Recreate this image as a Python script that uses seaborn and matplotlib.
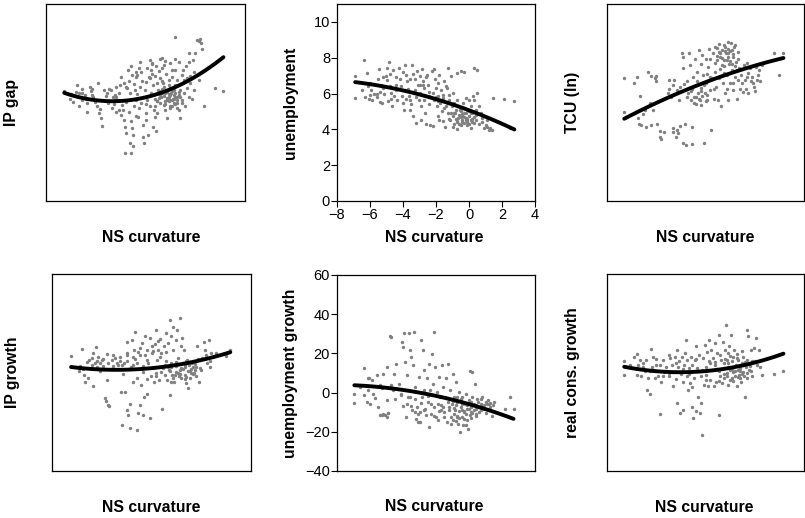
import numpy as np
import pandas as pd
import matplotlib
matplotlib.use("Agg")
import matplotlib.pyplot as plt
import seaborn as sns

# ---------------- data ----------------
# Panel 1: IP gap vs NS curvature
curv_ipgap = [-6.9,-6.55,-6.45,-6.35,-6.15,-6.1,-6.0,-5.85,-5.8,-5.65,
              -5.5,-5.5,-5.35,-5.3,-5.2,-5.15,-5.05,-4.95,-4.85,-4.8,
              -4.75,-4.7,-4.6,-4.4,-4.25,-4.2,-4.1,-3.95,-3.85,-3.85,
              -3.75,-3.75,-3.65,-3.6,-3.5,-3.55,-3.45,-3.4,-3.35,-3.3,
              -3.25,-3.25,-3.2,-3.15,-3.1,-3.05,-3.0,-2.95,-2.95,-2.9,
              -2.85,-2.8,-2.75,-2.75,-2.7,-2.65,-2.65,-2.6,-2.55,-2.5,
              -2.45,-2.4,-2.35,-2.35,-2.3,-2.25,-2.15,-2.15,-2.1,-2.05,
              -2.0,-1.95,-1.9,-1.85,-1.75,-1.75,-1.7,-1.65,-1.65,-1.55,
              -1.55,-1.5,-1.45,-1.45,-1.35,-1.35,-1.3,-1.25,-1.15,-1.15,
              -1.1,-1.05,-1.0,-0.95,-0.9,-0.8,-0.8,-0.75,-0.7,-0.7,
              -0.6,-0.6,-0.55,-0.5,-0.5,-0.45,-0.4,-0.4,-0.35,-0.3,
              -0.3,-0.25,-0.2,-0.2,-0.1,-0.1,0.0,0.05,0.1,0.1,
              0.2,0.25,0.3,0.3,0.4,0.45,0.5,0.6,0.65,0.7,
              0.8,0.85,0.9,1.0,1.1,1.2,1.3,1.35,1.4,1.5,
              2.2,2.7,-0.9,-0.7,-0.6,-0.5,-0.4,-0.3,-0.2,-0.1,
              -0.6,-1.2,-1.0,0.0,-0.5,-1.3,-0.8,-3.3,-2.9,-2.5,
              -2.2,-1.9,-1.6,-1.3,-2.7,-3.8,-4.5,-5.8,-6.2,-4.0,
              -3.6,-3.0,-2.6,-2.0,-1.4,0.6,1.2,0.9,-0.2,-1.0,
              -1.6]
ip_gap = [1.8,0.5,1.1,0.1,2.6,0.8,-0.5,2.0,0.4,1.1,
          -0.1,-1.45,2.3,1.8,2.0,0.9,0.1,-0.5,2.9,-1.65,
          -1.0,-2.4,-3.6,1.0,-0.1,2.0,1.9,0.9,0.4,1.1,
          0.9,-1.4,0.4,1.4,3.9,2.7,-1.9,-0.4,-1.15,-2.7,
          -3.8,-7.7,0.1,-4.7,2.2,4.9,3.2,1.4,-6.2,-7.7,
          -2.8,-3.9,-4.9,-6.7,-0.6,1.9,0.5,3.9,0.4,1.3,
          -2.2,-0.9,6.1,2.4,4.7,-0.1,-3.4,-5.2,-6.2,1.9,
          -1.65,-2.7,0.4,-4.9,3.7,6.5,-0.6,4.9,1.4,-3.7,
          2.7,-1.15,4.0,0.5,-4.4,5.5,-1.65,1.9,6.6,3.7,
          -0.1,0.9,5.2,2.9,5.7,-1.15,1.4,4.4,0.4,-2.4,
          3.4,0.9,2.2,0.4,6.0,1.4,0.4,3.9,0.6,-0.1,
          1.9,10.0,0.9,2.7,0.4,3.4,-1.15,6.2,1.9,-2.4,
          0.4,4.9,1.4,3.4,-0.6,5.5,2.2,7.5,6.2,2.9,
          0.6,6.5,1.9,7.5,9.5,9.3,9.6,9.0,8.1,-0.5,
          2.2,1.8,1.0,1.6,0.2,1.1,1.8,0.6,1.4,0.9,
          2.6,0.7,2.0,1.2,-0.5,0.3,-0.3,3.0,5.6,4.2,
          3.2,5.2,4.4,3.0,2.8,2.3,1.9,1.4,1.6,-0.8,
          -1.2,-1.5,-2.0,-0.2,-2.2,0.8,3.5,4.6,5.0,6.8,
          6.0]
curv_ipgap_more = [-1.3,-1.1,-0.9,-0.7,-0.5,-0.3,-0.1,0.1,-1.2,-0.8,
                   -0.4,0.0,-0.6,-0.2,0.2,-1.0,-1.4,-0.9,-0.5,-0.1,
                   -2.8,-2.4,-2.0,-1.6,-1.2,-0.8,-0.4,0.2,0.5,-3.2,
                   -2.6,-1.8,-1.0,-0.2,0.7,-6.5,-6.0,-5.6,-5.2,-4.7,
                   -4.3,-3.9]
ip_gap_more = [0.2,1.1,-0.4,0.7,-0.9,1.2,0.0,0.8,1.7,0.3,
               -0.6,1.6,1.3,-0.3,-0.1,1.4,-0.5,2.3,2.0,-0.8,
               4.2,5.3,3.1,5.9,4.8,6.3,5.0,4.2,3.8,2.4,
               4.6,3.9,3.3,6.7,4.1,1.3,1.5,0.6,1.2,0.4,
               1.5,-0.2]

# Panel 2: unemployment vs NS curvature
curv_unemp = [-6.9,-6.9,-6.35,-6.2,-6.15,-6.3,-6.05,-5.95,-5.85,-5.75,
              -5.5,-5.45,-5.35,-5.4,-5.25,-5.15,-5.05,-5.0,-4.95,-4.85,
              -4.8,-4.75,-4.7,-4.65,-4.55,-4.45,-4.35,-4.25,-4.2,-4.1,
              -4.05,-4.0,-3.95,-3.85,-3.8,-3.75,-3.7,-3.65,-3.6,-3.55,
              -3.45,-3.4,-3.3,-3.25,-3.2,-3.15,-3.1,-3.05,-3.0,-2.95,
              -2.9,-2.85,-2.8,-2.75,-2.7,-2.65,-2.6,-2.55,-2.5,-2.45,
              -2.4,-2.35,-2.25,-2.2,-2.15,-2.1,-2.05,-2.0,-1.95,-1.9,
              -1.85,-1.8,-1.75,-1.7,-1.65,-1.55,-1.55,-1.5,-1.45,-1.4,
              -1.35,-1.3,-1.25,-1.2,-1.15,-1.1,-1.05,-1.0,-1.0,-0.95,
              -0.9,-0.85,-0.75,-0.75,-0.7,-0.65,-0.55,-0.5,-0.5,-0.45,
              -0.4,-0.35,-0.3,-0.3,-0.2,-0.2,-0.15,-0.1,-0.1,0.0,
              0.0,0.1,0.1,0.2,0.25,0.3,0.3,0.45,0.5,0.6,
              0.7,0.8,0.9,1.0,1.1,1.2,1.3,1.4,1.45,0.3,
              0.5,-0.3,2.15,2.75,2.5,-0.8,-0.6,-0.4,-0.2,0.0,
              0.2,-0.5,-0.3,0.1,-0.9,-0.1,0.4,-0.7,0.6,-1.2,
              -6.0,-5.6,-5.2,-4.9,-4.4,-3.9,-3.5,-2.9,-2.2,-1.8,
              -3.0,-2.6,-1.5,-1.2,-1.9]
unemployment = [7.0,5.75,7.85,7.15,6.4,5.8,5.7,6.2,5.65,5.95,
                6.8,7.35,6.45,5.55,5.45,5.95,7.0,7.45,6.75,7.75,
                7.1,6.05,5.7,5.3,5.85,6.5,5.65,7.45,6.8,6.4,
                5.85,5.5,5.1,7.6,7.05,6.7,6.25,5.85,5.65,5.1,
                7.6,4.75,6.2,6.8,4.35,7.25,6.5,5.65,7.0,6.05,
                5.3,7.35,6.7,6.3,5.65,4.9,4.3,7.05,6.45,5.85,
                5.4,4.25,7.25,6.05,5.65,7.35,6.8,6.3,5.3,4.75,
                5.85,7.05,5.5,6.2,5.0,4.45,5.75,6.7,4.15,5.3,
                6.3,4.9,7.45,5.65,4.55,7.0,5.3,4.15,4.75,6.05,
                5.5,4.9,4.45,7.15,5.65,4.65,5.1,4.25,7.25,4.85,
                4.55,5.5,4.35,4.9,4.65,5.75,4.45,5.1,4.25,4.75,
                5.65,4.55,5.3,4.9,5.85,4.35,5.65,5.1,6.05,5.3,
                4.9,4.65,4.05,4.25,4.15,3.95,4.05,3.95,5.75,7.4,
                7.3,7.2,5.7,5.6,4.1,4.6,4.8,4.4,4.9,4.3,
                4.6,5.0,4.7,4.1,4.3,4.6,4.5,4.0,4.3,4.6,
                5.9,6.0,6.3,5.6,6.9,6.2,5.4,4.5,4.2,4.5,
                6.5,6.9,5.2,5.9,6.6]
curv_unemp_more = [-0.9,-0.7,-0.5,-0.3,-0.1,0.1,0.3,-0.8,-0.6,-0.4,
                   -0.2,0.0,0.2,0.4,-1.1,-1.3,-1.6,-2.0,-2.4,-2.8,
                   -3.2,-3.6,-4.0,-4.4,-4.8,-5.2,-5.6,-6.0,-6.5,-3.4,
                   -2.7,-1.9,-1.4,0.8,1.1,-3.8,-4.6,-5.4]
unemployment_more = [4.9,4.4,4.7,5.2,4.4,4.9,4.7,5.1,4.3,4.8,
                     4.5,5.0,4.4,4.8,4.9,5.5,5.9,5.8,6.1,6.5,
                     5.8,6.8,7.2,6.2,6.4,6.9,5.8,6.6,6.2,7.1,
                     5.9,5.6,6.4,4.4,4.5,5.7,7.3,6.1]

# Panel 3: TCU (ln, x100) vs NS curvature
curv_tcu = [-6.95,-6.95,-6.35,-6.2,-6.1,-6.05,-5.9,-5.8,-5.7,-5.6,
            -5.5,-5.4,-5.3,-5.2,-5.1,-5.0,-5.0,-4.95,-4.8,-4.75,
            -4.7,-4.5,-4.2,-4.2,-4.1,-4.0,-3.95,-3.9,-3.8,-3.75,
            -3.75,-3.65,-3.6,-3.55,-3.55,-3.45,-3.4,-3.35,-3.35,-3.25,
            -3.2,-3.15,-3.1,-3.05,-3.0,-2.95,-2.9,-2.85,-2.85,-2.8,
            -2.75,-2.7,-2.65,-2.6,-2.55,-2.5,-2.45,-2.4,-2.35,-2.3,
            -2.25,-2.2,-2.15,-2.1,-2.05,-2.0,-1.95,-1.9,-1.85,-1.8,
            -1.75,-1.7,-1.65,-1.6,-1.55,-1.5,-1.45,-1.4,-1.35,-1.3,
            -1.25,-1.2,-1.15,-1.1,-1.05,-1.0,-0.95,-0.9,-0.85,-0.8,
            -0.75,-0.7,-0.65,-0.6,-0.55,-0.5,-0.45,-0.4,-0.35,-0.3,
            -0.25,-0.2,-0.15,-0.1,-0.05,0.0,0.05,0.1,0.15,0.25,
            0.35,0.4,0.45,0.55,0.6,0.7,0.75,0.85,0.95,1.05,
            1.15,1.25,1.35,1.45,2.2,2.5,2.75,-1.0,-0.8,-0.6,
            -0.4,-0.7,-1.1,-0.5,-0.9,-0.3,-1.3,-0.2,-0.6,-2.4,
            -2.2,-2.0,-2.3,-1.9,-2.6]
tcu = [433.8,428.5,432.9,433.9,427.6,426.7,426.6,428.3,428.8,426.3,
       434.7,429.9,426.6,428.8,433.7,433.2,434.0,426.8,424.8,425.7,
       424.4,425.5,433.4,432.1,430.9,426.1,425.5,433.4,424.8,431.9,
       425.8,425.3,430.4,432.4,426.4,437.6,423.8,437.0,435.2,426.8,
       423.5,430.9,433.2,431.4,437.5,435.7,430.4,426.3,423.7,432.0,
       433.9,429.9,436.7,430.9,432.7,434.7,431.5,438.0,430.4,435.9,
       432.2,437.2,434.2,423.8,431.4,436.7,432.9,430.4,435.4,438.2,
       431.9,436.7,425.8,433.7,437.5,430.6,434.7,438.5,432.4,436.5,
       430.4,437.7,433.7,436.9,429.4,435.7,432.9,438.7,436.5,431.4,
       437.5,434.2,438.2,430.4,435.9,432.9,439.0,434.9,436.9,431.9,
       438.5,433.9,436.2,430.6,437.7,433.4,435.2,432.1,434.2,432.9,
       435.7,433.4,432.1,433.9,431.4,435.2,433.2,433.9,432.4,435.4,
       433.4,434.9,433.2,435.7,437.6,434.2,437.5,438.0,437.8,437.0,
       438.0,436.4,437.5,436.3,435.6,437.4,438.3,435.5,439.2,430.6,
       431.0,430.2,431.8,431.2,429.8]
curv_tcu_more = [-1.4,-1.2,-1.0,-0.8,-0.6,-0.4,-0.2,0.0,-1.3,-0.9,
                 -0.5,-0.1,-2.9,-2.5,-2.1,-1.7,-3.3,-2.7,-1.9,-1.5,
                 0.3,0.6,0.9,1.2,-0.3,-0.7,-1.1,-2.3,0.5,1.0,
                 -4.3,-4.0,-5.3,-6.0]
tcu_more = [436.0,438.9,436.8,438.4,437.6,435.8,438.8,436.6,437.1,434.5,
            437.9,435.0,431.8,433.3,432.6,433.9,432.8,430.8,434.4,432.1,
            431.6,434.5,433.0,434.2,433.0,432.0,435.1,429.6,436.0,431.8,
            431.4,432.7,434.0,431.0]

# Panel 4: IP growth vs NS curvature
curv_ipgr = [-6.85,-6.3,-6.2,-6.15,-6.05,-6.0,-5.85,-5.75,-5.6,-5.5,
             -5.4,-5.35,-5.3,-5.2,-5.1,-5.0,-4.9,-4.8,-4.75,-4.7,
             -4.65,-4.55,-4.4,-4.3,-4.2,-4.1,-4.0,-3.9,-3.85,-3.8,
             -3.7,-3.65,-3.6,-3.5,-3.5,-3.45,-3.4,-3.3,-3.3,-3.25,
             -3.2,-3.1,-3.1,-3.05,-3.0,-2.9,-2.9,-2.85,-2.8,-2.7,
             -2.7,-2.65,-2.6,-2.5,-2.5,-2.45,-2.4,-2.3,-2.3,-2.25,
             -2.2,-2.1,-2.1,-2.05,-2.0,-1.9,-1.85,-1.8,-1.75,-1.7,
             -1.65,-1.6,-1.55,-1.5,-1.45,-1.4,-1.35,-1.3,-1.25,-1.2,
             -1.15,-1.1,-1.05,-1.0,-0.95,-0.9,-0.9,-0.85,-0.8,-0.75,
             -0.7,-0.7,-0.65,-0.6,-0.55,-0.5,-0.45,-0.4,-0.35,-0.3,
             -0.25,-0.2,-0.15,-0.1,-0.05,0.0,0.05,0.1,0.15,0.2,
             0.25,0.3,0.35,0.45,0.5,0.55,0.65,0.7,0.75,0.85,
             0.9,1.05,1.15,1.25,1.35,1.45,1.55,2.5,2.75,-0.8,
             -0.5,-0.3,0.0,0.2,-0.6,0.4,-0.2,0.1,0.6,-1.0,
             -0.4,-5.6,-5.3,-4.9,-4.6,-4.3,-3.8,-3.5,-3.0,-2.8,
             -2.4,-2.0,-1.6]
ip_growth = [2.5,1.0,3.6,0.5,-0.35,-1.4,-0.85,1.9,1.2,-2.1,
             1.5,3.9,0.9,2.3,1.4,1.9,1.0,-3.9,-4.4,-1.1,
             -4.9,-5.1,1.9,1.0,2.2,1.5,1.2,2.4,-2.9,-8.0,
             -0.2,1.4,-2.9,4.7,-5.7,2.9,-6.4,-4.8,-8.5,0.9,
             5.0,2.4,-1.4,3.5,6.1,1.4,-8.8,-0.85,-6.2,-4.9,
             2.7,-1.9,4.5,-6.4,0.15,-3.7,5.5,3.5,-3.2,-1.0,
             1.4,-7.0,5.2,-0.6,2.9,0.7,-1.4,4.4,-0.6,6.5,
             1.9,3.5,-1.1,5.1,0.15,2.9,-5.6,0.7,4.0,-0.35,
             6.0,1.7,-1.1,4.5,0.4,-3.4,8.0,1.4,5.5,-0.35,
             3.5,7.0,-1.4,1.2,5.0,0.15,6.5,2.2,-0.6,8.3,
             4.0,0.7,5.2,1.4,3.5,-0.35,0.9,-1.6,1.9,-2.4,
             1.2,0.3,-0.85,1.4,0.9,-0.1,1.3,-0.6,4.0,-1.5,
             0.7,2.2,4.7,3.5,1.4,5.0,0.9,2.5,3.5,0.8,
             1.6,0.4,1.1,0.2,-0.4,0.6,-0.8,1.7,0.4,0.9,
             -0.1,2.2,1.7,2.0,1.5,2.6,1.1,1.8,2.1,3.1,
             2.6,4.0,4.8]
curv_ipgr_more = [-0.9,-0.7,-0.5,-0.3,-0.1,0.1,0.3,0.5,0.7,-0.8,
                  -0.4,0.0,0.4,0.8,-1.2,-1.5,-1.9,-2.3,-2.7,-3.1,
                  -3.5,-3.9,-4.3,-4.7,-5.1,-5.5,-5.9,-6.4,-2.5,-1.7,
                  -1.1,1.0,1.3,1.6,1.5,1.9]
ip_growth_more = [0.3,-0.9,1.0,-0.2,0.6,-0.7,1.5,-0.3,0.9,-1.4,
                  1.3,-1.0,0.0,2.1,1.2,2.3,3.2,1.9,3.8,1.1,
                  2.6,1.7,0.6,2.8,0.3,2.9,1.6,0.2,1.0,0.0,
                  3.1,0.4,2.6,3.0,1.8,2.9]

# Panel 5: unemployment growth vs NS curvature
curv_ungr = [-6.95,-6.95,-6.35,-6.35,-6.2,-6.15,-6.05,-6.0,-5.9,-5.8,
             -5.6,-5.5,-5.4,-5.4,-5.3,-5.2,-5.2,-5.1,-5.0,-5.0,
             -4.95,-4.9,-4.8,-4.75,-4.7,-4.6,-4.55,-4.4,-4.25,-4.15,
             -4.05,-4.0,-4.0,-3.95,-3.85,-3.8,-3.75,-3.75,-3.65,-3.6,
             -3.55,-3.5,-3.45,-3.4,-3.35,-3.3,-3.25,-3.2,-3.15,-3.1,
             -3.05,-3.0,-2.95,-2.9,-2.85,-2.8,-2.75,-2.7,-2.65,-2.6,
             -2.55,-2.5,-2.45,-2.4,-2.35,-2.3,-2.25,-2.2,-2.15,-2.1,
             -2.05,-2.0,-1.95,-1.9,-1.85,-1.8,-1.75,-1.7,-1.65,-1.6,
             -1.55,-1.5,-1.45,-1.4,-1.35,-1.3,-1.25,-1.2,-1.15,-1.1,
             -1.05,-1.0,-0.95,-0.9,-0.85,-0.8,-0.75,-0.7,-0.65,-0.6,
             -0.55,-0.5,-0.45,-0.4,-0.35,-0.3,-0.25,-0.2,-0.15,-0.1,
             -0.05,0.0,0.05,0.1,0.15,0.2,0.3,0.35,0.4,0.45,
             0.55,0.6,0.7,0.75,0.8,0.9,1.0,1.05,1.1,1.15,
             1.25,1.3,1.4,1.45,1.5,0.05,2.5,2.2,2.7,-0.8,
             -0.6,-0.4,-0.2,0.0,0.2,-0.5,-0.3,-0.9,0.1,-1.2,
             -1.5,0.4,-0.7,-1.0,-2.3,-2.7,-3.1,-3.5,-1.8]
unemp_growth = [-0.85,-5.3,12.8,-1.4,-4.8,7.2,7.5,-5.6,6.6,-0.5,
                8.9,-7.3,-11.6,3.7,-11.6,9.7,-10.7,-11.6,-12.4,-3.9,
                13.1,-10.4,29.0,28.4,3.7,1.2,9.4,14.5,4.6,-1.4,
                25.9,-7.0,23.3,30.5,15.7,-12.4,8.9,-5.6,30.2,21.6,
                -2.2,18.2,-9.0,14.0,31.0,2.9,-3.1,-13.3,-7.3,-15.0,
                8.0,-15.0,-9.9,26.7,-2.2,21.6,11.4,1.2,-8.2,-11.6,
                7.2,-4.8,-17.5,14.8,1.2,-10.7,19.9,4.6,31.0,-7.3,
                13.1,-12.4,0.3,-5.6,-14.1,8.0,-2.2,-9.0,14.0,2.9,
                -7.3,-12.4,-2.2,7.2,-15.0,-4.8,14.8,-9.0,1.2,-12.4,
                -5.6,9.7,-14.1,-2.2,-9.0,5.5,-12.4,-4.8,-15.8,0.3,
                -20.1,-7.3,-12.4,-2.2,-16.7,-9.9,-5.6,-0.5,-14.1,-8.2,
                -18.4,-3.9,-11.6,-7.3,-9.9,10.6,-5.6,4.6,-8.2,-10.7,
                -4.8,-7.3,-9.0,-3.1,-2.2,-6.5,-4.8,-8.2,-5.6,-3.9,
                -7.3,-5.3,-11.9,-6.5,-4.8,11.1,-2.2,-8.2,-8.2,-6.5,
                -9.5,-6.0,-11.0,-8.5,-10.5,-4.0,-13.5,-11.0,-5.0,-7.5,
                -10.0,-6.5,-2.5,-4.5,-6.0,-9.0,-11.0,-7.0,-9.5]
curv_ungr_more = [-0.9,-0.7,-0.5,-0.3,-0.1,0.1,0.3,0.5,0.7,0.9,
                  -0.8,-0.4,0.0,0.4,0.8,1.2,-1.3,-1.7,-2.1,-2.5,
                  -2.9,-3.3,-3.7,-4.1,-4.5,-4.9,-5.3,-5.7,-6.1,-6.6,
                  -1.1,-0.6,-0.2,0.2,0.6,1.0]
unemp_growth_more = [-7.8,-11.8,-3.5,-9.3,-6.1,-12.8,-8.8,-3.3,-5.9,-8.5,
                     -14.6,-9.0,-5.2,-12.0,-6.8,-6.0,-3.0,-6.5,-12.0,-1.5,
                     -5.5,-9.8,-2.0,-0.5,-3.5,-10.2,2.5,-3.0,1.5,3.0,
                     -16.0,-13.0,-16.5,-2.5,-10.0,-10.5]

# Panel 6: real consumption growth vs NS curvature
curv_cons = [-6.95,-6.95,-6.35,-6.25,-6.2,-6.1,-6.0,-5.9,-5.8,-5.7,
             -5.6,-5.55,-5.5,-5.4,-5.3,-5.25,-5.2,-5.1,-5.0,-4.9,
             -4.8,-4.75,-4.7,-4.6,-4.5,-4.4,-4.25,-4.2,-4.15,-4.05,
             -4.0,-3.95,-3.85,-3.8,-3.75,-3.75,-3.65,-3.6,-3.55,-3.5,
             -3.45,-3.4,-3.35,-3.3,-3.25,-3.2,-3.15,-3.1,-3.05,-3.0,
             -2.95,-2.9,-2.85,-2.8,-2.75,-2.7,-2.65,-2.6,-2.55,-2.5,
             -2.45,-2.4,-2.35,-2.3,-2.25,-2.2,-2.15,-2.1,-2.05,-2.0,
             -1.95,-1.9,-1.85,-1.8,-1.75,-1.7,-1.65,-1.6,-1.55,-1.5,
             -1.45,-1.4,-1.35,-1.3,-1.25,-1.2,-1.15,-1.1,-1.05,-1.0,
             -0.95,-0.9,-0.85,-0.8,-0.75,-0.7,-0.65,-0.6,-0.55,-0.5,
             -0.45,-0.4,-0.35,-0.3,-0.25,-0.2,-0.15,-0.1,-0.05,0.0,
             0.05,0.1,0.15,0.2,0.3,0.35,0.4,0.45,0.5,0.55,
             0.6,0.65,0.75,0.85,0.85,0.95,1.05,1.15,1.25,1.45,
             2.2,2.75,-0.9,-0.6,-0.4,-0.2,0.0,0.2,-0.7,0.3,
             -1.2,0.5,-0.5,-0.1,0.1,-0.3,-1.4]
cons_growth = [1.7,-0.35,2.3,0.7,-0.35,1.2,1.9,-0.6,1.4,0.3,
               1.9,-2.6,-0.85,-3.2,3.6,0.9,2.4,-0.85,1.2,-0.6,
               -6.3,1.2,-1.4,1.9,0.15,0.9,2.7,-0.5,2.2,1.2,
               -2.1,0.15,2.4,-1.0,-4.6,3.5,0.9,1.7,-6.1,-0.2,
               2.4,-5.7,-1.4,1.2,2.9,5.0,-0.6,1.9,-2.6,0.7,
               -1.6,2.4,-5.2,1.2,-7.0,-0.85,1.9,4.0,-5.9,0.7,
               -3.7,2.7,-6.2,-0.6,-4.7,-9.5,2.2,-1.9,4.2,0.9,
               -0.35,3.1,-2.1,5.0,1.4,-1.1,3.5,0.4,2.2,-2.1,
               4.5,1.2,-1.4,2.9,0.4,-6.5,5.7,-0.6,1.9,-1.6,
               4.7,0.7,-0.85,3.5,7.3,-0.1,1.4,-1.9,4.0,0.4,
               5.7,-0.85,2.4,0.15,3.5,-0.6,1.2,-2.1,0.4,1.9,
               -0.35,0.7,-1.4,1.4,0.15,-0.6,-3.7,0.9,6.5,1.9,
               5.5,0.4,3.5,1.7,-0.6,3.7,5.2,1.2,3.5,-0.35,
               -0.2,0.3,1.5,0.8,1.7,0.3,1.0,-0.2,-0.6,1.1,
               0.2,0.0,2.5,2.2,-0.9,-1.3,1.6]
curv_cons_more = [-1.3,-1.1,-0.9,-0.7,-0.5,-0.3,-0.1,0.1,0.3,0.5,
                  0.7,-1.2,-0.8,-0.4,0.0,0.4,0.8,-1.8,-2.2,-2.6,
                  -3.0,-3.4,-3.8,-4.2,-4.6,-5.0,-5.4,-5.8,-6.2,-6.6,
                  1.0,1.3,-2.0,-2.8,-0.6,0.2]
cons_growth_more = [0.6,2.6,-0.3,1.9,-1.2,0.9,2.8,0.2,2.3,-0.9,
                    1.0,-1.3,2.0,0.5,-0.7,1.6,0.2,1.7,0.4,2.0,
                    -0.2,0.5,1.5,0.0,-0.5,2.0,0.3,0.9,2.8,1.1,
                    1.8,0.8,-1.2,-2.2,3.0,3.3]

x_ticks = [-8, -6, -4, -2, 0, 2, 4]
unemp_ticks = [0, 2, 4, 6, 8, 10]
ungr_ticks = [-40, -20, 0, 20, 40, 60]

# ---------------- figure ----------------
sns.set_theme(style="white")
plt.rcParams["font.family"] = ["Liberation Sans", "DejaVu Sans"]

W, H = 805, 518
fig = plt.figure(figsize=(W / 100, H / 100), dpi=100)

def px_axes(left, top, right, bottom):
    return fig.add_axes([left / W, 1 - bottom / H, (right - left) / W, (bottom - top) / H])

panels = [
    dict(box=(46, 4, 245, 201), x=curv_ipgap + curv_ipgap_more, y=ip_gap + ip_gap_more,
         ylabel="IP gap", ylim=(-15, 15), ycoord=-0.171, xcoord=0.528),
    dict(box=(337, 4, 535, 201), x=curv_unemp + curv_unemp_more, y=unemployment + unemployment_more,
         ylabel="unemployment", ylim=(0, 11), ycoord=-0.237, xcoord=0.49, xt=True, yt=unemp_ticks),
    dict(box=(607, 4, 804, 201), x=curv_tcu + curv_tcu_more, y=tcu + tcu_more,
         ylabel="TCU (ln)", ylim=(415, 445), ycoord=-0.173, xcoord=0.496),
    dict(box=(52, 274, 251, 471), x=curv_ipgr + curv_ipgr_more, y=ip_growth + ip_growth_more,
         ylabel="IP growth", ylim=(-15, 15), ycoord=-0.201, xcoord=0.497),
    dict(box=(337, 275, 535, 471), x=curv_ungr + curv_ungr_more, y=unemp_growth + unemp_growth_more,
         ylabel="unemployment growth", ylim=(-40, 60), ycoord=-0.237, xcoord=0.49, yt=ungr_ticks),
    dict(box=(607, 274, 804, 471), x=curv_cons + curv_cons_more, y=cons_growth + cons_growth_more,
         ylabel="real cons. growth", ylim=(-15, 15), ycoord=-0.173, xcoord=0.495),
]

for p in panels:
    ax = px_axes(*p["box"])
    df = pd.DataFrame({"NS curvature": p["x"], p["ylabel"]: p["y"]})
    sns.regplot(data=df, x="NS curvature", y=p["ylabel"], order=2, ci=None, ax=ax,
                scatter_kws=dict(s=6, color="#808080", linewidths=0, alpha=1),
                line_kws=dict(color="black", lw=2.8))
    ax.set_xlim(-8, 4)
    ax.set_ylim(*p["ylim"])
    for sp in ax.spines.values():
        sp.set_visible(True)
        sp.set_color("black")
        sp.set_linewidth(0.9)
    if p.get("xt"):
        ax.set_xticks(x_ticks)
        ax.tick_params(axis="x", bottom=True, direction="out", length=4, width=0.8,
                       labelsize=10.5, pad=1, colors="black")
    else:
        ax.set_xticks([])
    if p.get("yt"):
        ax.set_yticks(p["yt"])
        ax.tick_params(axis="y", left=True, direction="out", length=4, width=0.8,
                       labelsize=10.5, pad=1, colors="black")
    else:
        ax.set_yticks([])
    ax.set_xlabel("NS curvature", fontsize=11.3, fontweight="bold", color="black")
    ax.set_ylabel(p["ylabel"], fontsize=11.3, fontweight="bold", color="black")
    ax.xaxis.set_label_coords(p["xcoord"], -0.183)
    ax.xaxis.label.set_va("center")
    ax.yaxis.set_label_coords(p["ycoord"], 0.5)
    ax.yaxis.label.set_va("center")

fig.savefig("out.png", dpi=100)
